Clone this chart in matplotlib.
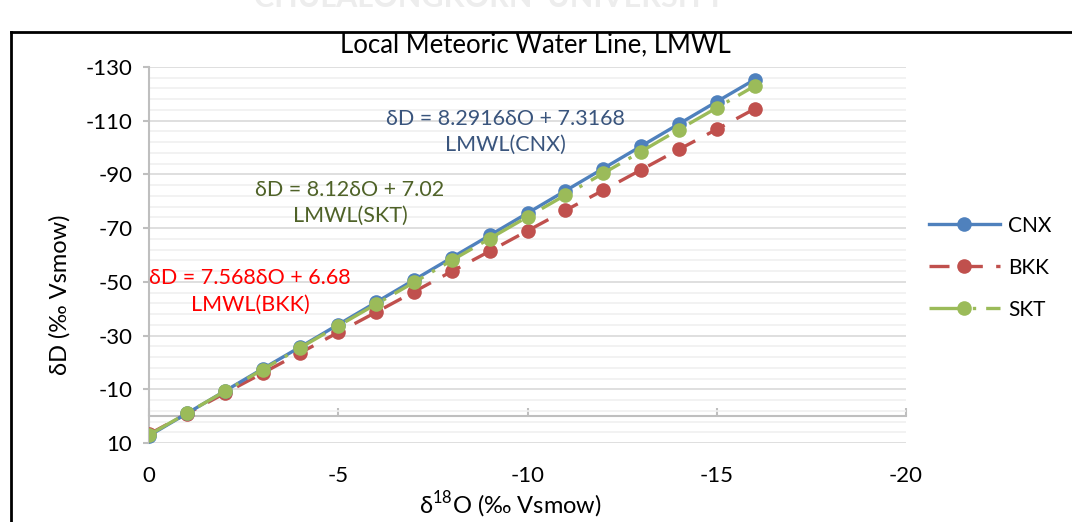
import matplotlib
matplotlib.use("Agg")
import matplotlib.pyplot as plt
from matplotlib.ticker import FixedLocator
from matplotlib.lines import Line2D

plt.rcParams['font.family'] = ['Lato', 'DejaVu Sans']
plt.rcParams['mathtext.fontset'] = 'custom'
plt.rcParams['mathtext.rm'] = 'Lato'

# data
d18O = [0, -1, -2, -3, -4, -5, -6, -7, -8, -9, -10, -11, -12, -13, -14, -15, -16]
cnx = [7.3, -1.0, -9.3, -17.6, -25.8, -34.1, -42.4, -50.7, -59.0, -67.3,
       -75.6, -83.9, -92.2, -100.5, -108.8, -117.1, -125.3]
bkk = [6.7, -0.9, -8.5, -16.0, -23.6, -31.2, -38.7, -46.3, -53.9, -61.4,
       -69.0, -76.6, -84.1, -91.7, -99.3, -106.8, -114.4]
skt = [7.0, -1.1, -9.2, -17.3, -25.5, -33.6, -41.7, -49.8, -58.0, -66.1,
       -74.2, -82.3, -90.4, -98.5, -106.7, -114.8, -122.9]
series_names = ["CNX", "BKK", "SKT"]
eq_texts = ["δD = 8.2916δO + 7.3168\nLMWL(CNX)",
            "δD = 7.568δO + 6.68\nLMWL(BKK)",
            "δD = 8.12δO + 7.02\nLMWL(SKT)"]
x_ticks = [0, -5, -10, -15, -20]
y_ticks = [10, -10, -30, -50, -70, -90, -110, -130]
y_minor = [v for v in range(10, -131, -4) if v not in y_ticks]

BLUE = "#4F81BD"
RED = "#C0504D"
GREEN = "#9BBB59"

W, H = 1072, 522
fig = plt.figure(figsize=(W / 100, H / 100), dpi=100)
L, R, T, B = 149, 906, 67, 443
ax = fig.add_axes([L / W, 1 - B / H, (R - L) / W, (B - T) / H])

ax.set_xlim(0, -20)
ax.set_ylim(10, -130)

ms = 10.5
lw = 2.4
ls_bkk = (0, (6, 4))
ls_skt = (0, (10, 3, 1, 3))
ax.plot(d18O, bkk, color=RED, lw=lw, ls=ls_bkk, marker='o', ms=ms,
        markeredgewidth=0, zorder=3)
ax.plot(d18O, cnx, color=BLUE, lw=lw, ls='-', marker='o', ms=ms,
        markeredgewidth=0, zorder=4)
ax.plot(d18O, skt, color=GREEN, lw=lw, ls=ls_skt, marker='o', ms=ms,
        markeredgewidth=0, zorder=5)

# grid
ax.yaxis.set_major_locator(FixedLocator(y_ticks))
ax.set_yticks(y_minor, minor=True)
ax.grid(True, which='major', axis='y', color='#d9d9d9', lw=1.2, zorder=0)
ax.grid(True, which='minor', axis='y', color='#f0f0f0', lw=1.2, zorder=0)
ax.set_axisbelow(True)

ax.set_xticks(x_ticks)
ax.set_xticklabels([str(v) for v in x_ticks])
ax.set_yticklabels([str(v) for v in y_ticks])

for s in ['top', 'right']:
    ax.spines[s].set_visible(False)
ax.spines['left'].set_color('#bfbfbf')
ax.spines['left'].set_linewidth(1.5)
ax.spines['bottom'].set_position(('data', 0))
ax.spines['bottom'].set_color('#bfbfbf')
ax.spines['bottom'].set_linewidth(1.5)

ax.tick_params(axis='x', which='major', direction='in', length=6, width=1.5,
               color='#bfbfbf', labelsize=16, pad=36, labelcolor='black')
ax.tick_params(axis='y', which='major', direction='out', length=4, width=1.5,
               color='#bfbfbf', labelsize=16, pad=8, labelcolor='black')
ax.tick_params(axis='y', which='minor', length=0)

ax.set_ylabel("δD (‰ Vsmow)", fontsize=17)
ax.yaxis.set_label_coords(-0.118, 0.394)
ax.yaxis.label.set_va('center')
ax.set_xlabel(r"δ$^{\mathregular{18}}$O (‰ Vsmow)", fontsize=17)
ax.xaxis.set_label_coords(0.477, -0.165)
ax.xaxis.label.set_va('center')

# equations
eq_kw = dict(fontsize=15.5, ha='center', va='center', linespacing=1.4)
ax.text(-9.43, -105.8, eq_texts[0], color="#3A557D", **eq_kw)
ax.text(-2.67, -46.4, eq_texts[1], color="#FF0000", **eq_kw)
ax.text(-5.31, -79.4, eq_texts[2], color="#4F6228", **eq_kw)

# title
fig.text(535 / W, 1 - 45 / H, "Local Meteoric Water Line, LMWL",
         fontsize=18.5, ha='center', va='center')

# legend
handles = [
    Line2D([], [], color=BLUE, lw=lw, ls='-', marker='o', ms=ms, markeredgewidth=0),
    Line2D([], [], color=RED, lw=lw, ls=ls_bkk, marker='o', ms=ms, markeredgewidth=0),
    Line2D([], [], color=GREEN, lw=lw, ls=ls_skt, marker='o', ms=ms, markeredgewidth=0),
]
fig.legend(handles, series_names, loc='upper left',
           bbox_to_anchor=(910 / W, 1 - 197 / H), frameon=False,
           fontsize=15, handlelength=3.4, labelspacing=1.05, handletextpad=0.4)

# watermark (faint, cut off at top)
fig.text(490 / W, 1 + 2 / H, "CHULALONGKORN  UNIVERSITY", fontsize=22,
         fontweight='bold', color='#ededed', ha='center', va='center')

# outer frame lines
fig.add_artist(Line2D([11 / W, 11 / W], [0, 1 - 32 / H], transform=fig.transFigure,
                      color='black', lw=2))
fig.add_artist(Line2D([11 / W, 1], [1 - 32 / H, 1 - 32 / H], transform=fig.transFigure,
                      color='black', lw=2))

fig.savefig("out.png", dpi=100)
